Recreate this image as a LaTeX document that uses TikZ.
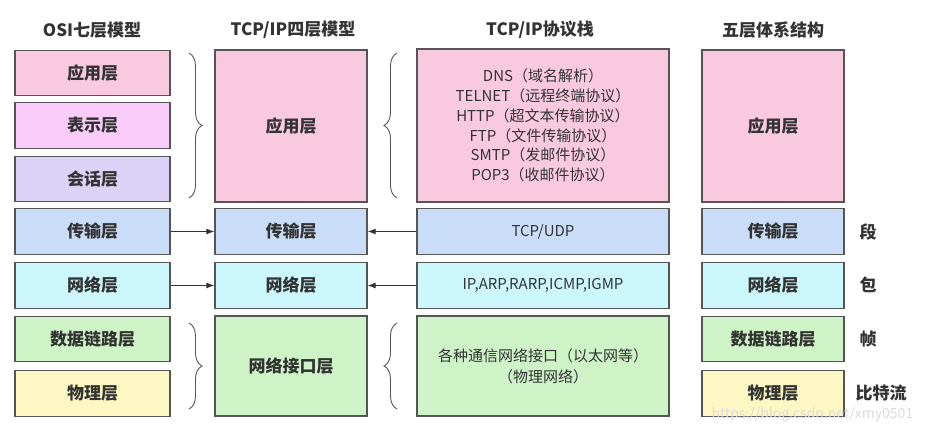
\documentclass[tikz,border=0pt]{standalone}
\usepackage{fontspec}
\setmainfont{Noto Sans CJK SC}
\usetikzlibrary{arrows.meta,decorations.pathreplacing}
\definecolor{cApp}{HTML}{F9C9DF}
\definecolor{cPres}{HTML}{F9CCFA}
\definecolor{cSess}{HTML}{DCD1F6}
\definecolor{cTrans}{HTML}{CADDF8}
\definecolor{cNet}{HTML}{CBF7FD}
\definecolor{cDL}{HTML}{CDF3C6}
\definecolor{cPhy}{HTML}{FDF8C3}
\definecolor{cBorder}{HTML}{555555}
\definecolor{cText}{HTML}{333333}
\begin{document}
\begin{tikzpicture}[x=1pt,y=-1pt,
  box/.style={draw=cBorder,line width=1.3pt,inner sep=0pt,text=cText,align=center,
    font=\fontsize{17}{20}\selectfont\bfseries},
  plain/.style={font=\fontsize{15}{19.8}\selectfont\mdseries},
  colA/.style={minimum width=155pt},
  colB/.style={minimum width=152pt},
  colC/.style={minimum width=252pt},
  colD/.style={minimum width=142pt},
  hS/.style={minimum height=45.5pt},
  title/.style={text=cText,font=\fontsize{17}{20}\selectfont\bfseries},
  side/.style={text=cText,font=\fontsize{17}{20}\selectfont\bfseries},
  arr/.style={draw=cText,line width=1pt,-{Latex[length=8pt,width=6pt]}},
  brc/.style={draw=cBorder,line width=0.9pt,decorate,decoration={brace,amplitude=13pt}}]
\useasboundingbox[fill=white] (0,0) rectangle (935,434);

% titles
\node[title] (t1) at (92,30) {OSI七层模型};
\node[title] (t2) at (293,30) {TCP/IP四层模型};
\node[title] (t3) at (540,30) {TCP/IP协议栈};
\node[title] (t4) at (773,30) {五层体系结构};

% OSI column
\node[box,colA,hS,fill=cApp]   (oapp)  at (92.5,73)    {应用层};
\node[box,colA,hS,fill=cPres]  (opres) at (92.5,125.5) {表示层};
\node[box,colA,hS,fill=cSess]  (osess) at (92.5,179)   {会话层};
\node[box,colA,hS,fill=cTrans] (otr)   at (92.5,231.5) {传输层};
\node[box,colA,hS,fill=cNet]   (onet)  at (92.5,285.5) {网络层};
\node[box,colA,hS,fill=cDL]    (odl)   at (92.5,339)   {数据链路层};
\node[box,colA,hS,fill=cPhy]   (ophy)  at (92.5,393.5) {物理层};

% TCP/IP four-layer column
\node[box,colB,minimum height=152pt,fill=cApp] (fapp) at (291,126) {应用层};
\node[box,colB,hS,fill=cTrans] (ftr)  at (291,231.5) {传输层};
\node[box,colB,hS,fill=cNet]   (fnet) at (291,285.5) {网络层};
\node[box,colB,minimum height=100pt,fill=cDL] (fni) at (291,366) {网络接口层};

% protocol stack column
\node[box,colC,minimum height=153pt,fill=cApp,plain] (sapp) at (543,125.5)
  {DNS（域名解析）\\TELNET（远程终端协议）\\HTTP（超文本传输协议）\\FTP（文件传输协议）\\SMTP（发邮件协议）\\POP3（收邮件协议）};
\node[box,colC,hS,fill=cTrans,plain] (str)  at (543,231.5) {TCP/UDP};
\node[box,colC,hS,fill=cNet,plain]   (snet) at (543,285.5) {IP,ARP,RARP,ICMP,IGMP};
\node[box,colC,minimum height=100pt,fill=cDL,plain,font=\fontsize{15}{21}\selectfont\mdseries] (sni) at (543,366)
  {各种通信网络接口（以太网等）\\（物理网络）};

% five-layer column
\node[box,colD,minimum height=152pt,fill=cApp] (vapp) at (773,126) {应用层};
\node[box,colD,hS,fill=cTrans] (vtr)  at (773,231.5) {传输层};
\node[box,colD,hS,fill=cNet]   (vnet) at (773,285.5) {网络层};
\node[box,colD,hS,fill=cDL]    (vdl)  at (773,339)   {数据链路层};
\node[box,colD,hS,fill=cPhy]   (vphy) at (773,393.5) {物理层};

% side labels
\node[side] (l1) at (868,232) {段};
\node[side] (l2) at (868,285) {包};
\node[side] (l3) at (868,339) {帧};
\node[side] (l4) at (881,393) {比特流};

% arrows
\draw[arr] (otr) -- (ftr);
\draw[arr] (onet) -- (fnet);
\draw[arr] (str) -- (ftr);
\draw[arr] (snet) -- (fnet);

% braces
\draw[brc] (189,53) -- (189,198);
\draw[brc] (397,198) -- (397,53);
\draw[brc] (189,323) -- (189,409);
\draw[brc] (397,409) -- (397,323);

% watermark
\node[anchor=west,text=black!14,font=\fontsize{14}{14}\selectfont] (wm) at (708,415) {https://blog.csdn.net/xmy0501};
\end{tikzpicture}
\end{document}
